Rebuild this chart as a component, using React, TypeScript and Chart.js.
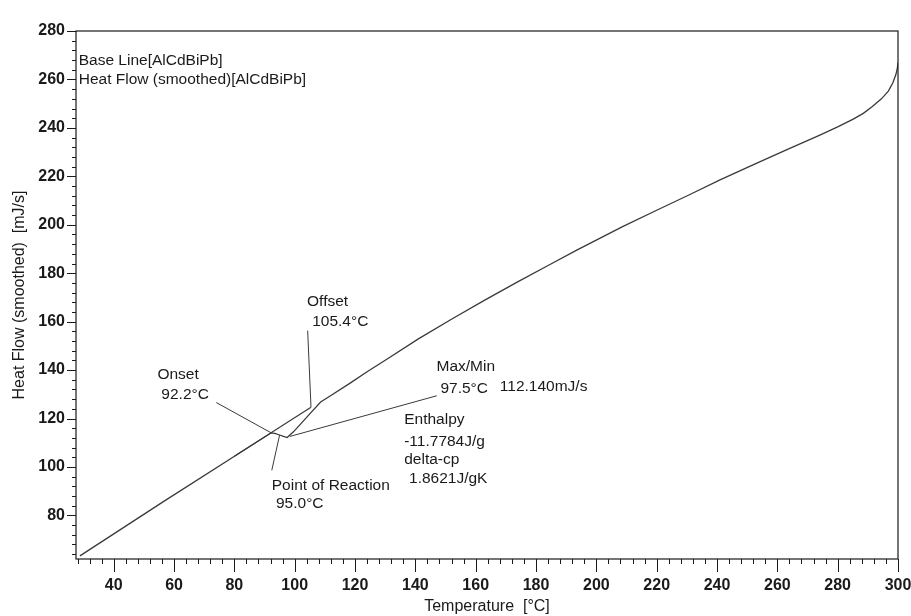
import React, { useEffect, useRef } from "react";
import { Chart, registerables } from "chart.js";

Chart.register(...registerables);

// ---- axis ranges and ticks ----
const X_MIN = 27.5;
const X_MAX = 300;
const Y_MIN = 62;
const Y_MAX = 280;
const MINOR_STEP = 4;
const xMajorTicks = [40, 60, 80, 100, 120, 140, 160, 180, 200, 220, 240, 260, 280, 300];
const yMajorTicks = [80, 100, 120, 140, 160, 180, 200, 220, 240, 260, 280];

// ---- series ----
const seriesLabels = ["Base Line[AlCdBiPb]", "Heat Flow (smoothed)[AlCdBiPb]"];

const heatTemp = [28.8, 56.6, 92.2, 93.4, 95.0, 96.3, 97.5, 99.5, 102.0, 105.0, 108.6, 112.0, 118.5, 124.0, 130.4, 141.0, 152.1, 163.0, 173.9, 184.0, 193.5, 208.7, 220.0, 230.5, 241.0, 252.3, 263.0, 274.1, 280.0, 285.0, 288.5, 291.5, 294.5, 296.8, 298.3, 299.3, 299.8, 300.0];
const heatFlow = [63.3, 85.8, 114.1, 113.9, 113.2, 112.6, 112.14, 114.4, 117.8, 121.9, 126.8, 129.5, 134.7, 139.3, 144.4, 152.9, 161.1, 168.9, 176.4, 183.2, 189.5, 199.2, 206.0, 212.2, 218.5, 224.9, 230.9, 237.0, 240.4, 243.5, 246.0, 248.8, 252.0, 255.2, 258.6, 262.0, 264.8, 267.0];

const baseTemp = [80.0, 105.4];
const baseFlow = [104.4, 124.7];

// ---- annotation leader lines ----
const onsetPtrTemp = [74.0, 92.2];
const onsetPtrFlow = [126.6, 114.1];
const offsetPtrTemp = [104.3, 105.4];
const offsetPtrFlow = [156.3, 124.7];
const reactionPtrTemp = [95.0, 92.4];
const reactionPtrFlow = [113.2, 98.6];
const maxMinPtrTemp = [98.4, 147.1];
const maxMinPtrFlow = [112.6, 129.4];

// ---- annotation texts ----
const noteTexts = [
  "Onset", "92.2°C",
  "Offset", "105.4°C",
  "Max/Min", "97.5°C", "112.140mJ/s",
  "Enthalpy", "-11.7784J/g", "delta-cp", "1.8621J/gK",
  "Point of Reaction", "95.0°C",
];
const noteTemps = [54.5, 55.8, 104.1, 105.8, 147.0, 148.3, 168.0, 136.3, 136.3, 136.3, 137.9, 92.4, 93.8];
const noteFlows = [138.0, 129.8, 168.2, 159.9, 141.2, 132.4, 133.0, 119.5, 110.4, 102.9, 95.1, 92.3, 85.0];

const legendTemp = 28.4;
const legendFlows = [267.8, 259.7];

const FONT = '"Liberation Sans", Arial, sans-serif';
const INK = "#1a1a1a";
const LINE = "#3a3a3a";

const toXY = (xs: number[], ys: number[]) => xs.map((x, i) => ({ x, y: ys[i] }));

const decorPlugin = {
  id: "decor",
  afterDraw(chart: any) {
    const { ctx, chartArea: ca } = chart;
    const xs = chart.scales.x;
    const ys = chart.scales.y;
    ctx.save();
    ctx.strokeStyle = INK;
    ctx.lineWidth = 1.2;
    ctx.strokeRect(ca.left, ca.top, ca.right - ca.left, ca.bottom - ca.top);

    ctx.lineWidth = 1;
    ctx.beginPath();
    for (let v = Math.ceil(X_MIN / MINOR_STEP) * MINOR_STEP; v <= X_MAX; v += MINOR_STEP) {
      const px = Math.round(xs.getPixelForValue(v)) + 0.5;
      const len = xMajorTicks.includes(v) ? 13 : 5;
      ctx.moveTo(px, ca.bottom);
      ctx.lineTo(px, ca.bottom + len);
    }
    for (let v = Math.ceil(Y_MIN / MINOR_STEP) * MINOR_STEP; v <= Y_MAX; v += MINOR_STEP) {
      const py = Math.round(ys.getPixelForValue(v)) + 0.5;
      const len = yMajorTicks.includes(v) ? 9 : 4;
      ctx.moveTo(ca.left, py);
      ctx.lineTo(ca.left - len, py);
    }
    ctx.stroke();

    ctx.fillStyle = INK;
    ctx.font = `15.5px ${FONT}`;
    ctx.textAlign = "left";
    ctx.textBaseline = "middle";
    noteTexts.forEach((t, i) => {
      ctx.fillText(t, xs.getPixelForValue(noteTemps[i]), ys.getPixelForValue(noteFlows[i]));
    });
    seriesLabels.forEach((t, i) => {
      ctx.fillText(t, xs.getPixelForValue(legendTemp), ys.getPixelForValue(legendFlows[i]));
    });
    ctx.restore();
  },
};

export default function App() {
  const ref = useRef<HTMLCanvasElement | null>(null);

  useEffect(() => {
    if (!ref.current) return;
    const thin = { borderColor: LINE, borderWidth: 1, pointRadius: 0, showLine: true, fill: false, tension: 0 };
    const chart = new Chart(ref.current, {
      type: "line",
      data: {
        datasets: [
          { label: seriesLabels[0], data: toXY(baseTemp, baseFlow), ...thin, borderWidth: 1.2 },
          { label: seriesLabels[1], data: toXY(heatTemp, heatFlow), ...thin, borderWidth: 1.3 },
          { label: "onset", data: toXY(onsetPtrTemp, onsetPtrFlow), ...thin },
          { label: "offset", data: toXY(offsetPtrTemp, offsetPtrFlow), ...thin },
          { label: "reaction", data: toXY(reactionPtrTemp, reactionPtrFlow), ...thin },
          { label: "maxmin", data: toXY(maxMinPtrTemp, maxMinPtrFlow), ...thin },
        ] as any,
      },
      options: {
        animation: false,
        responsive: false,
        devicePixelRatio: 1,
        layout: { padding: { left: 6, top: 31, right: 13, bottom: 0 } },
        plugins: { legend: { display: false }, tooltip: { enabled: false } },
        scales: {
          x: {
            type: "linear",
            min: X_MIN,
            max: X_MAX,
            grid: { display: false, drawTicks: false },
            border: { display: false },
            afterBuildTicks: (s: any) => {
              s.ticks = xMajorTicks.map((v) => ({ value: v }));
            },
            afterFit: (s: any) => {
              s.height = 57;
              s.paddingLeft = 0;
              s.paddingRight = 0;
            },
            ticks: {
              autoSkip: false,
              maxRotation: 0,
              padding: 17,
              color: INK,
              font: { family: FONT, size: 16, weight: "bold" },
            },
            title: {
              display: true,
              text: "Temperature  [°C]",
              color: INK,
              padding: { top: 0, bottom: 0 },
              font: { family: FONT, size: 16 },
            },
          },
          y: {
            type: "linear",
            min: Y_MIN,
            max: Y_MAX,
            grid: { display: false, drawTicks: false },
            border: { display: false },
            afterBuildTicks: (s: any) => {
              s.ticks = yMajorTicks.map((v) => ({ value: v }));
            },
            afterFit: (s: any) => {
              s.width = 70;
              s.paddingTop = 0;
              s.paddingBottom = 0;
            },
            ticks: {
              autoSkip: false,
              padding: 11,
              color: INK,
              font: { family: FONT, size: 16, weight: "bold" },
            },
            title: {
              display: true,
              text: "Heat Flow (smoothed)  [mJ/s]",
              color: INK,
              padding: { top: 4, bottom: 0 },
              font: { family: FONT, size: 16 },
            },
          },
        },
      } as any,
      plugins: [decorPlugin],
    });
    return () => chart.destroy();
  }, []);

  return (
    <div style={{ position: "fixed", left: 0, top: 0, width: 911, height: 616, background: "#fff" }}>
      <canvas ref={ref} width={911} height={616} style={{ width: 911, height: 616, display: "block" }} />
    </div>
  );
}
